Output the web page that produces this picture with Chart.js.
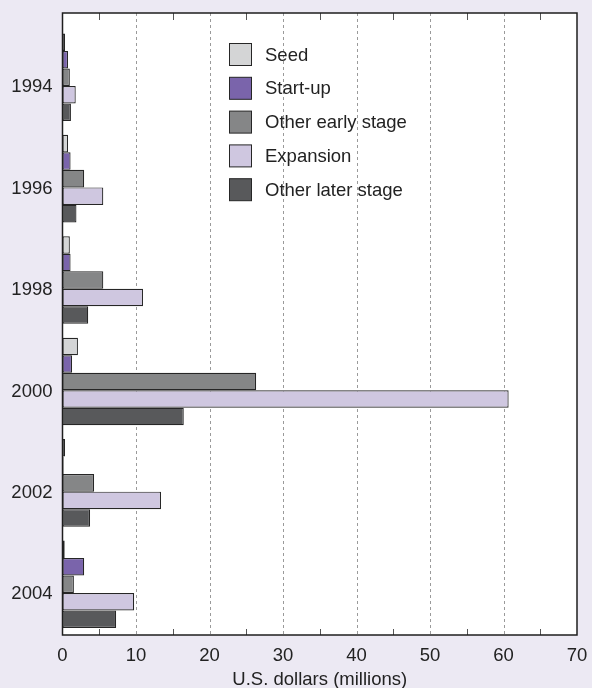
<!DOCTYPE html>
<html>
<head>
<meta charset="utf-8">
<script src="https://cdn.jsdelivr.net/npm/chart.js@4"></script>
<style>
  html, body { margin: 0; padding: 0; background: #ece9f3; }
  #wrap { width: 592px; height: 688px; }
</style>
</head>
<body>
<div id="wrap"><canvas id="stageChart" width="592" height="688"></canvas></div>
<script>
const years = ['1994', '1996', '1998', '2000', '2002', '2004'];
const seriesNames = ['Seed', 'Start-up', 'Other early stage', 'Expansion', 'Other later stage'];
const seed = [0.35, 0.75, 1.0, 2.1, 0.35, 0.3];
const startUp = [0.75, 1.1, 1.1, 1.3, 0.15, 2.95];
const otherEarly = [1.0, 2.95, 5.55, 26.35, 4.3, 1.55];
const expansion = [1.8, 5.55, 10.95, 60.7, 13.4, 9.75];
const otherLater = [1.15, 1.9, 3.5, 16.5, 3.75, 7.3];
const xTicks = [0, 10, 20, 30, 40, 50, 60, 70];

const fills = ['#d4d5d6', '#7a64ab', '#858687', '#cfc7e0', '#58595b'];
const edge = '#262626';
const frameTop = 13;
const fontFamily = '"Liberation Sans", Arial, sans-serif';

// plot box, dashed grid, minor ticks, legend
const boxPlugin = {
    id: 'boxPlugin',
    beforeDraw(chart) {
        const c = chart.ctx, a = chart.chartArea;
        c.save();
        c.fillStyle = '#ece9f3';
        c.fillRect(0, 0, chart.width, chart.height);
        c.fillStyle = '#ffffff';
        c.fillRect(a.left, frameTop, a.right - a.left, a.bottom - frameTop);
        c.restore();
    },
    beforeDatasetsDraw(chart) {
        const c = chart.ctx, a = chart.chartArea, x = chart.scales.x;
        c.save();
        c.strokeStyle = '#9a9a9a';
        c.lineWidth = 1;
        c.setLineDash([3, 3]);
        xTicks.forEach(function (v) {
            if (v === 0 || v === 70) return;
            const px = Math.round(x.getPixelForValue(v)) + 0.5;
            c.beginPath();
            c.moveTo(px, frameTop);
            c.lineTo(px, a.bottom);
            c.stroke();
        });
        c.restore();
    },
    afterDatasetsDraw(chart) {
        const c = chart.ctx, a = chart.chartArea, x = chart.scales.x;
        c.save();
        c.strokeStyle = '#555';
        c.lineWidth = 1;
        for (let v = 5; v < 70; v += 10) {
            const px = Math.round(x.getPixelForValue(v)) + 0.5;
            c.beginPath();
            c.moveTo(px, frameTop);
            c.lineTo(px, frameTop + 7);
            c.moveTo(px, a.bottom);
            c.lineTo(px, a.bottom - 6);
            c.stroke();
        }
        c.strokeStyle = '#1e1e1e';
        c.lineWidth = 1.5;
        c.strokeRect(a.left, frameTop, a.right - a.left, a.bottom - frameTop);

        // legend
        c.font = '18.5px ' + fontFamily;
        c.textBaseline = 'middle';
        c.textAlign = 'left';
        chart.data.datasets.forEach(function (ds, i) {
            const cy = 54.5 + i * 33.8;
            c.fillStyle = ds.backgroundColor;
            c.fillRect(229.5, cy - 11, 22, 22);
            c.strokeStyle = edge;
            c.lineWidth = 1;
            c.strokeRect(229.5, cy - 11, 22, 22);
            c.fillStyle = '#222';
            c.fillText(ds.label, 265, cy + 1);
        });
        c.restore();
    }
};

const datasets = [seed, startUp, otherEarly, expansion, otherLater].map(function (vals, i) {
    return {
        label: seriesNames[i],
        data: vals,
        backgroundColor: fills[i],
        borderColor: edge,
        borderWidth: 1.2,
        borderSkipped: false,
        barPercentage: 1,
        categoryPercentage: 0.863
    };
});

const ctxStage = document.getElementById('stageChart').getContext('2d');
const stageChart = new Chart(ctxStage, {
    type: 'bar',
    data: {
        labels: years,
        datasets: datasets
    },
    options: {
        indexAxis: 'y',
        responsive: false,
        animation: false,
        layout: {
            padding: { top: 26.5, right: 15, left: 0, bottom: 0 }
        },
        plugins: {
            legend: { display: false },
            tooltip: { enabled: false }
        },
        scales: {
            x: {
                min: 0,
                max: 70,
                afterFit(scale) {
                    scale.height = 53;
                    scale.paddingLeft = 0;
                    scale.paddingRight = 0;
                },
                afterBuildTicks(scale) {
                    scale.ticks = xTicks.map(function (v) { return { value: v }; });
                },
                grid: { display: false, drawTicks: false },
                border: { display: false },
                ticks: {
                    padding: 10,
                    color: '#222',
                    font: { family: fontFamily, size: 18.5 },
                    maxRotation: 0
                },
                title: {
                    display: true,
                    text: 'U.S. dollars (millions)',
                    color: '#222',
                    padding: { top: 0, bottom: -3 },
                    font: { family: fontFamily, size: 18.5 }
                }
            },
            y: {
                afterFit(scale) { scale.width = 62.5; },
                grid: { display: false, drawTicks: false },
                border: { display: false },
                ticks: {
                    padding: 10,
                    labelOffset: 10,
                    color: '#222',
                    font: { family: fontFamily, size: 18.5 }
                }
            }
        }
    },
    plugins: [boxPlugin]
});
</script>
</body>
</html>
